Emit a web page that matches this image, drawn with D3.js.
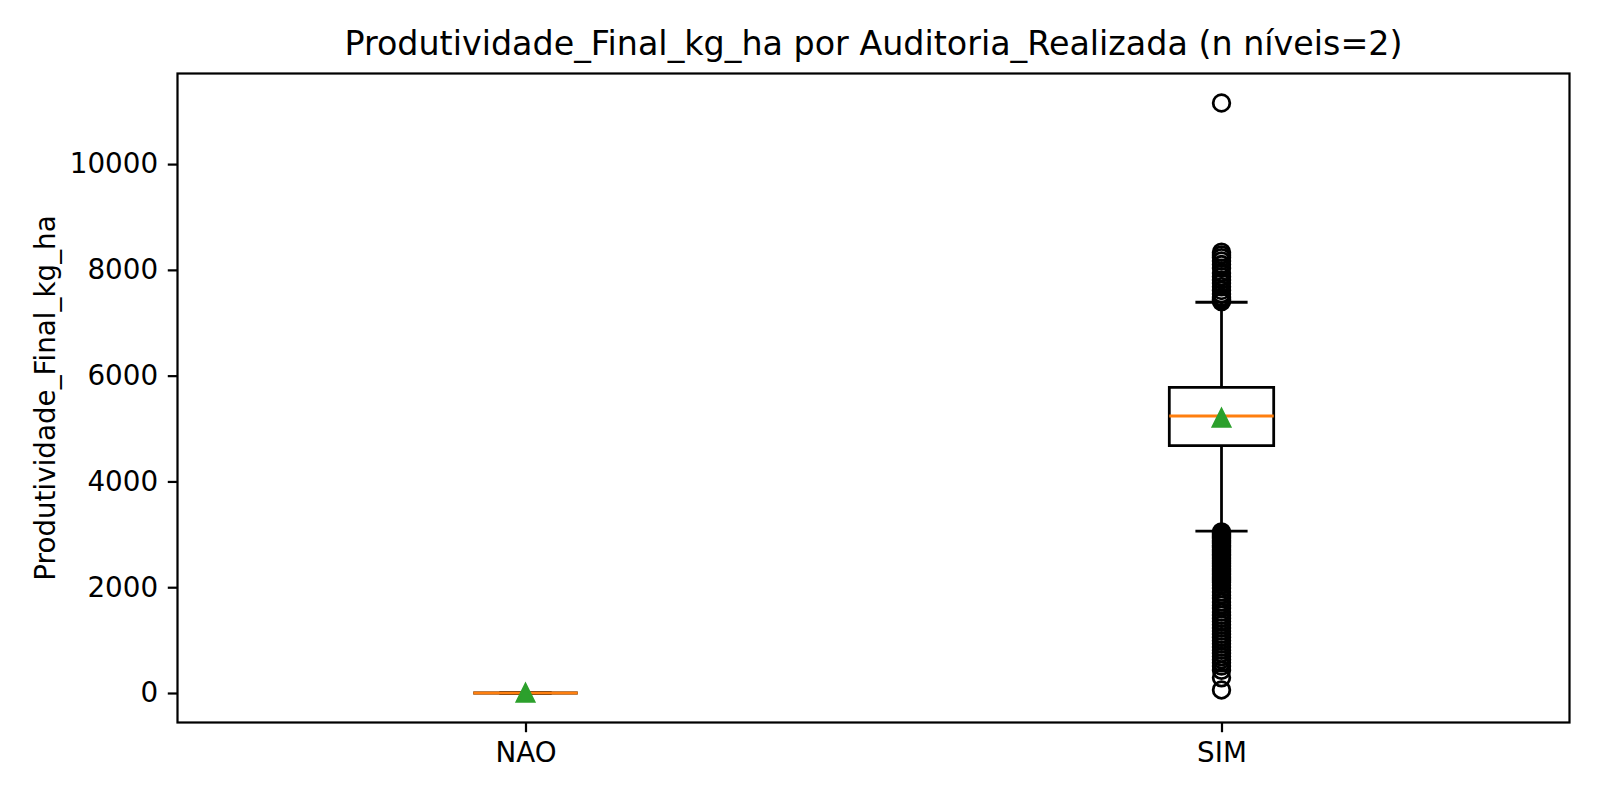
<!DOCTYPE html>
<html>
<head>
<meta charset="utf-8">
<script src="https://cdn.jsdelivr.net/npm/d3@7"></script>
<style>
  html, body { margin: 0; padding: 0; background: #fff; }
  svg { display: block; }
  text { font-family: "DejaVu Sans", sans-serif; fill: #000; }
</style>
</head>
<body>
<svg id="chart" width="1600" height="800"></svg>
<script>
// ---- data ----
const categories = ["NAO", "SIM"];
const q1 = [0, 4678];
const medians = [0, 5237];
const q3 = [0, 5780];
const whiskerLow = [0, 3062];
const whiskerHigh = [0, 7388];
const means = [0, 5200];
const outliersNAO = [];
const outliersSIM = [
  11155,
  8335, 8282, 8230, 8170, 8100, 8030, 7940, 7870, 7810, 7750, 7680, 7610, 7545, 7480, 7450, 7425, 7400,
  3045, 3025, 3005, 2985, 2960, 2940, 2915, 2890, 2870, 2845, 2820, 2795, 2770, 2745, 2720,
  2690, 2660, 2630, 2600, 2570, 2540, 2510, 2480, 2450, 2420, 2390, 2360, 2330, 2300, 2270,
  2240, 2210, 2180, 2150, 2120, 2090, 2040, 1980, 1910, 1850, 1790, 1720, 1660, 1600, 1530,
  1470, 1410, 1350, 1290, 1230, 1170, 1110, 1050, 990, 930, 870, 810, 750, 690, 630, 570,
  510, 430, 288, 58
];
const outliers = [outliersNAO, outliersSIM];
const yTicks = [0, 2000, 4000, 6000, 8000, 10000];
const titleText = "Produtividade_Final_kg_ha por Auditoria_Realizada (n níveis=2)";
const yLabel = "Produtividade_Final_kg_ha";

// ---- layout ----
const dpi = 200 / 72;
const plot = { left: 177.5, right: 1569.5, top: 73.5, bottom: 722.5 };
const svg = d3.select("#chart");

const allVals = [].concat(q1, q3, whiskerLow, whiskerHigh, outliersNAO, outliersSIM);
const dMin = d3.min(allVals), dMax = d3.max(allVals);
const pad = (dMax - dMin) * 0.05;

const x = d3.scaleLinear().domain([0.5, categories.length + 0.5]).range([plot.left, plot.right]);
const y = d3.scaleLinear().domain([dMin - pad, dMax + pad]).range([plot.bottom, plot.top]);

const lw = 1 * dpi;
const boxHalf = 0.075;
const capHalf = 0.0375;
const markerR = 3 * dpi;

const g = svg.append("g");

categories.forEach((c, i) => {
  const pos = i + 1;
  const cg = g.append("g");
  // box
  cg.append("path")
    .attr("d", `M${x(pos - boxHalf)},${y(q1[i])}L${x(pos + boxHalf)},${y(q1[i])}L${x(pos + boxHalf)},${y(q3[i])}L${x(pos - boxHalf)},${y(q3[i])}Z`)
    .attr("fill", "none").attr("stroke", "#000").attr("stroke-width", lw);
  // whiskers
  cg.append("line").attr("x1", x(pos)).attr("x2", x(pos))
    .attr("y1", y(q1[i])).attr("y2", y(whiskerLow[i]))
    .attr("stroke", "#000").attr("stroke-width", lw);
  cg.append("line").attr("x1", x(pos)).attr("x2", x(pos))
    .attr("y1", y(q3[i])).attr("y2", y(whiskerHigh[i]))
    .attr("stroke", "#000").attr("stroke-width", lw);
  // caps
  [whiskerLow[i], whiskerHigh[i]].forEach(v => {
    cg.append("line").attr("x1", x(pos - capHalf)).attr("x2", x(pos + capHalf))
      .attr("y1", y(v)).attr("y2", y(v))
      .attr("stroke", "#000").attr("stroke-width", lw);
  });
  // median
  cg.append("line").attr("x1", x(pos - boxHalf)).attr("x2", x(pos + boxHalf))
    .attr("y1", y(medians[i])).attr("y2", y(medians[i]))
    .attr("stroke", "#ff7f0e").attr("stroke-width", lw);
  // fliers
  cg.selectAll("circle.flier").data(outliers[i]).join("circle")
    .attr("class", "flier")
    .attr("cx", x(pos)).attr("cy", d => y(d)).attr("r", markerR)
    .attr("fill", "none").attr("stroke", "#000").attr("stroke-width", lw);
  // mean
  const mx = x(pos), my = y(means[i]);
  cg.append("path")
    .attr("d", `M${mx},${my - markerR}L${mx - markerR},${my + markerR}L${mx + markerR},${my + markerR}Z`)
    .attr("fill", "#2ca02c").attr("stroke", "#2ca02c").attr("stroke-width", lw).attr("stroke-linejoin", "miter");
});

// ---- axes ----
const tickLen = 3.5 * dpi, tickPad = 3.5 * dpi, fontPx = 10 * dpi;

const yAxis = svg.append("g").attr("transform", `translate(${plot.left},0)`)
  .call(d3.axisLeft(y).tickValues(yTicks).tickFormat(d3.format("d")).tickSize(tickLen).tickPadding(tickPad));
const xAxis = svg.append("g").attr("transform", `translate(0,${plot.bottom})`)
  .call(d3.axisBottom(x).tickValues(categories.map((c, i) => i + 1)).tickFormat((d, i) => categories[i]).tickSize(tickLen).tickPadding(tickPad));

[yAxis, xAxis].forEach(a => {
  a.select(".domain").remove();
  a.selectAll(".tick line").attr("stroke", "#000").attr("stroke-width", 0.8 * dpi);
  a.selectAll(".tick text").attr("font-family", "DejaVu Sans").attr("font-size", fontPx).attr("fill", "#000");
});

// spines
svg.append("rect")
  .attr("x", plot.left).attr("y", plot.top)
  .attr("width", plot.right - plot.left).attr("height", plot.bottom - plot.top)
  .attr("fill", "none").attr("stroke", "#000").attr("stroke-width", 0.8 * dpi);

// title
svg.append("text")
  .attr("x", (plot.left + plot.right) / 2).attr("y", plot.top - 6 * dpi - 0.2 * 12 * dpi * 0.3)
  .attr("text-anchor", "middle")
  .attr("font-size", 12 * dpi)
  .text(titleText);

// y label
svg.append("text")
  .attr("transform", `translate(55,${(plot.top + plot.bottom) / 2}) rotate(-90)`)
  .attr("text-anchor", "middle")
  .attr("font-size", fontPx)
  .text(yLabel);
</script>
</body>
</html>
